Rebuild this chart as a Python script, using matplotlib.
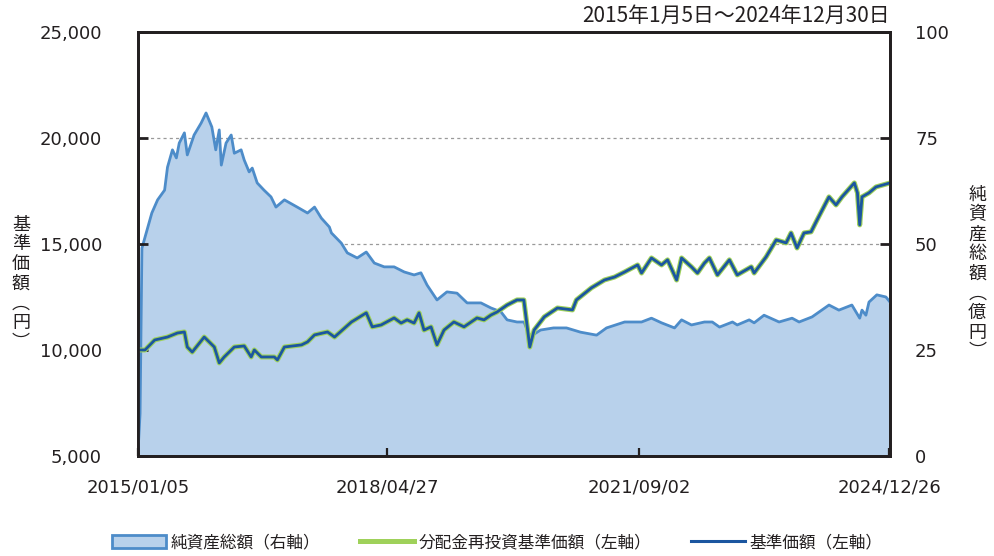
import matplotlib
matplotlib.use('Agg')
import matplotlib.pyplot as plt
import pandas as pd
from matplotlib.patches import Patch
from matplotlib.lines import Line2D

plt.rcParams['font.family'] = ['DejaVu Sans', 'Noto Sans CJK JP']

# 基準価額（円）
nav_dates = ['2015-01-05', '2015-02-08', '2015-03-27', '2015-05-28', '2015-07-15', '2015-08-18',
             '2015-09-01', '2015-09-25', '2015-11-22', '2016-01-10', '2016-02-03', '2016-02-27',
             '2016-04-16', '2016-06-03', '2016-07-07', '2016-07-22', '2016-08-25', '2016-10-27',
             '2016-11-11', '2016-12-15', '2017-03-08', '2017-04-06', '2017-05-10', '2017-07-12',
             '2017-08-15', '2017-11-05', '2018-01-16', '2018-02-14', '2018-03-29', '2018-05-31',
             '2018-07-04', '2018-08-02', '2018-09-05', '2018-09-29', '2018-10-23', '2018-11-26',
             '2018-12-25', '2019-01-28', '2019-03-17', '2019-05-05', '2019-07-07', '2019-08-10',
             '2019-09-13', '2019-10-12', '2019-11-30', '2020-01-17', '2020-02-19', '2020-03-19',
             '2020-04-09', '2020-05-28', '2020-07-31', '2020-10-12', '2020-10-31', '2021-01-12',
             '2021-03-16', '2021-05-04', '2021-06-22', '2021-08-24', '2021-09-12', '2021-10-30',
             '2021-12-18', '2022-01-16', '2022-03-01', '2022-03-25', '2022-05-12', '2022-06-10',
             '2022-07-14', '2022-08-07', '2022-09-15', '2022-11-12', '2022-12-20', '2023-02-26',
             '2023-03-12', '2023-05-09', '2023-06-27', '2023-08-14', '2023-09-07', '2023-10-06',
             '2023-11-09', '2023-12-13', '2024-01-11', '2024-03-09', '2024-04-12', '2024-05-11',
             '2024-07-10', '2024-07-25', '2024-08-05', '2024-08-16', '2024-09-19', '2024-10-23',
             '2024-12-30']
nav = [10000, 10000, 10470, 10610, 10800, 10850,
       10140, 9900, 10610, 10140, 9390, 9670,
       10140, 10190, 9670, 10000, 9670, 9670,
       9530, 10140, 10240, 10380, 10710, 10850,
       10610, 11320, 11750, 11090, 11180, 11510,
       11270, 11420, 11270, 11750, 10940, 11090,
       10240, 10940, 11320, 11090, 11510, 11420,
       11650, 11790, 12120, 12360, 12360, 10140,
       10940, 11560, 11980, 11890, 12360, 12930,
       13300, 13440, 13680, 14010, 13630, 14340,
       14010, 14250, 13300, 14340, 13920, 13630,
       14100, 14340, 13540, 14250, 13540, 13920,
       13630, 14390, 15190, 15050, 15520, 14810,
       15520, 15570, 16130, 17220, 16840, 17220,
       17880, 17410, 15900, 17220, 17410, 17690,
       17880]
# 分配金なしのため再投資後も同値
nav_reinvested = list(nav)

# 純資産総額（億円）
aum_dates = ['2015-01-05', '2015-01-15', '2015-01-24', '2015-02-08', '2015-03-13', '2015-04-10',
             '2015-05-14', '2015-05-28', '2015-06-21', '2015-07-10', '2015-07-24', '2015-08-18',
             '2015-09-01', '2015-10-04', '2015-11-07', '2015-12-01', '2015-12-29', '2016-01-17',
             '2016-02-03', '2016-02-13', '2016-03-07', '2016-04-01', '2016-04-16', '2016-05-19',
             '2016-06-03', '2016-06-27', '2016-07-12', '2016-08-05', '2016-09-07', '2016-10-11',
             '2016-11-04', '2016-12-15', '2017-02-15', '2017-04-06', '2017-05-10', '2017-06-12',
             '2017-07-21', '2017-07-31', '2017-09-17', '2017-10-16', '2017-12-03', '2018-01-16',
             '2018-02-24', '2018-04-13', '2018-05-31', '2018-07-19', '2018-09-05', '2018-10-08',
             '2018-11-07', '2018-12-25', '2019-02-11', '2019-04-01', '2019-05-20', '2019-07-26',
             '2019-09-13', '2019-10-31', '2019-11-30', '2020-01-17', '2020-02-20', '2020-03-20',
             '2020-05-10', '2020-07-12', '2020-09-13', '2020-11-20', '2021-02-06', '2021-03-26',
             '2021-06-22', '2021-09-12', '2021-10-30', '2021-12-18', '2022-02-19', '2022-03-25',
             '2022-05-12', '2022-07-14', '2022-08-21', '2022-09-25', '2022-11-27', '2022-12-20',
             '2023-02-16', '2023-03-12', '2023-04-29', '2023-07-11', '2023-09-12', '2023-10-16',
             '2023-12-18', '2024-03-09', '2024-04-26', '2024-06-28', '2024-08-05', '2024-08-16',
             '2024-09-04', '2024-09-19', '2024-10-27', '2024-12-10', '2024-12-30']
aum = [1.0, 10.0, 49.0, 51.6, 57.3, 60.4,
       62.7, 68.1, 72.2, 70.3, 73.8, 76.2,
       71.0, 75.7, 78.5, 80.9, 77.6, 72.2,
       76.9, 68.6, 73.8, 75.7, 71.4, 72.2,
       69.8, 67.0, 67.9, 64.4, 62.7, 61.1,
       58.7, 60.4, 58.7, 57.3, 58.7, 56.1,
       54.0, 52.6, 50.2, 47.9, 46.7, 48.1,
       45.5, 44.6, 44.6, 43.4, 42.7, 43.2,
       40.3, 36.8, 38.7, 38.4, 36.1, 36.1,
       34.9, 34.0, 32.1, 31.6, 31.6, 28.1,
       29.7, 30.2, 30.2, 29.2, 28.5, 30.2,
       31.6, 31.6, 32.5, 31.4, 30.2, 32.1,
       30.9, 31.6, 31.6, 30.4, 31.6, 30.9,
       32.1, 31.4, 33.2, 31.6, 32.5, 31.6,
       32.8, 35.6, 34.4, 35.6, 32.5, 34.4,
       33.2, 36.3, 38.0, 37.5, 36.3]

x_ticks = ['2015-01-05', '2018-04-27', '2021-09-02', '2024-12-26']
x_labels = ['2015/01/05', '2018/04/27', '2021/09/02', '2024/12/26']
left_ticks = [5000, 10000, 15000, 20000, 25000]
right_ticks = [0, 25, 50, 75, 100]

nav_x = pd.to_datetime(nav_dates)
aum_x = pd.to_datetime(aum_dates)

ink = '#231f20'
fig = plt.figure(figsize=(9.95, 5.56), dpi=100)
ax = fig.add_axes([0.1387, 0.1799, 0.7558, 0.7626])
ax2 = ax.twinx()
ax.set_zorder(ax2.get_zorder() + 1)
ax.patch.set_visible(False)
ax2.patch.set_facecolor('#fcfbe3')

# 純資産総額（右軸）
ax2.fill_between(aum_x, aum, 0, color='#b8d1eb', lw=0, zorder=2)
ax2.plot(aum_x, aum, color='#4d8cc9', lw=2.0, zorder=3)
ax2.set_ylim(0, 100)
ax2.set_yticks(right_ticks)
ax2.set_yticklabels([f'{v}' for v in right_ticks])
for v in right_ticks[1:-1]:
    ax2.axhline(v, color='#9a9a9a', lw=0.9, ls=(0, (2.5, 2.5)), zorder=1)

# 基準価額（左軸）
ax.plot(nav_x, nav_reinvested, color='#9fd15a', lw=3.6, solid_joinstyle='round')
ax.plot(nav_x, nav, color='#1b56a0', lw=2.0, solid_joinstyle='round')
ax.set_ylim(5000, 25000)
ax.set_yticks(left_ticks)
ax.set_yticklabels([f'{v:,}' for v in left_ticks])

ax.set_xlim(pd.Timestamp('2015-01-05'), pd.Timestamp('2024-12-30'))
ax.set_xticks(pd.to_datetime(x_ticks))
ax.set_xticklabels(x_labels)

for a in (ax, ax2):
    for s in a.spines.values():
        s.set_linewidth(2.0)
        s.set_color(ink)
ax.tick_params(axis='y', direction='in', length=7, width=2, labelsize=13, colors=ink, pad=26)
ax.tick_params(axis='x', direction='in', length=6, width=1.6, labelsize=13, colors=ink, pad=16)
ax2.tick_params(axis='y', direction='in', length=7, width=2, labelsize=13, colors=ink, pad=18)

jp = ['Noto Sans CJK JP', 'DejaVu Sans']
fig.text(0.8945, 0.972, '2015年1月5日～2024年12月30日', ha='right', va='center',
         fontsize=15, color=ink, family=jp)
fig.text(0.021, 0.49, '\n'.join('基準価額︵円︶'), ha='center', va='center',
         fontsize=13, color=ink, family=jp, linespacing=1.12)
fig.text(0.982, 0.508, '\n'.join('純資産総額︵億円︶'), ha='center', va='center',
         fontsize=13, color=ink, family=jp, linespacing=1.12)

handles = [Patch(facecolor='#b8d1eb', edgecolor='#4d8cc9', lw=2),
           Line2D([], [], color='#9fd15a', lw=3.6),
           Line2D([], [], color='#1b56a0', lw=2.2)]
labels = ['純資産総額（右軸）', '分配金再投資基準価額（左軸）', '基準価額（左軸）']
fig.legend(handles, labels, loc='center', bbox_to_anchor=(0.5, 0.024), ncol=3, frameon=False,
           prop={'family': jp, 'size': 12}, handlelength=3.2, handleheight=0.8,
           columnspacing=2.4, handletextpad=0.3, labelcolor=ink)

fig.savefig('out.png', dpi=100)
